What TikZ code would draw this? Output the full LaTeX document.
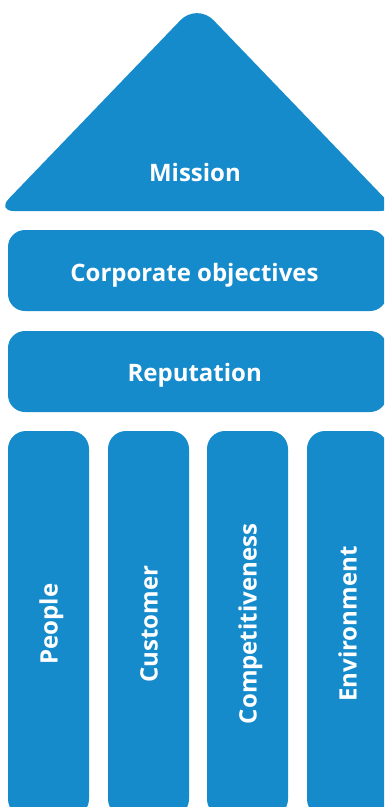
\documentclass[tikz,border=0pt]{standalone}
\usepackage{fontspec}
\setmainfont{Open Sans}
\definecolor{pblue}{RGB}{21,139,204}
\tikzset{
  shapefill/.style={fill=pblue},
  lbl/.style={text=white, font=\fontsize{24}{28}\selectfont\bfseries, inner sep=0pt, anchor=base},
  vlbl/.style={lbl, rotate=90}
}
\begin{document}
\begin{tikzpicture}[x=1pt, y=-1pt]
\useasboundingbox (0,0) rectangle (384,807);
\clip (0,0) rectangle (384,807);
% roof
\fill[shapefill] (197,211) [rounded corners=17pt] -- (-3,211) [rounded corners=24pt] -- (197,3) [rounded corners=17pt] -- (397,211) -- cycle;
\node[lbl] (mission) at (195,181.7) {Mission};
% beams
\fill[shapefill, rounded corners=17pt] (8,230) rectangle (387,311);
\node[lbl] (corp) at (194.5,281.5) {Corporate objectives};
\fill[shapefill, rounded corners=17pt] (8,331) rectangle (387,412);
\node[lbl] (rep) at (194.7,381.5) {Reputation};
% pillars
\fill[shapefill, rounded corners=18pt] (8,431) rectangle (89,817);
\fill[shapefill, rounded corners=18pt] (108,431) rectangle (189,817);
\fill[shapefill, rounded corners=18pt] (207,431) rectangle (288,817);
\fill[shapefill, rounded corners=18pt] (307,431) rectangle (388,817);
\node[vlbl] (people) at (57.5,624) {People};
\node[vlbl] (customer) at (157.5,624) {Customer};
\node[vlbl] (comp) at (256.5,624) {Competitiveness};
\node[vlbl] (env) at (356.5,624) {Environment};
\end{tikzpicture}
\end{document}
